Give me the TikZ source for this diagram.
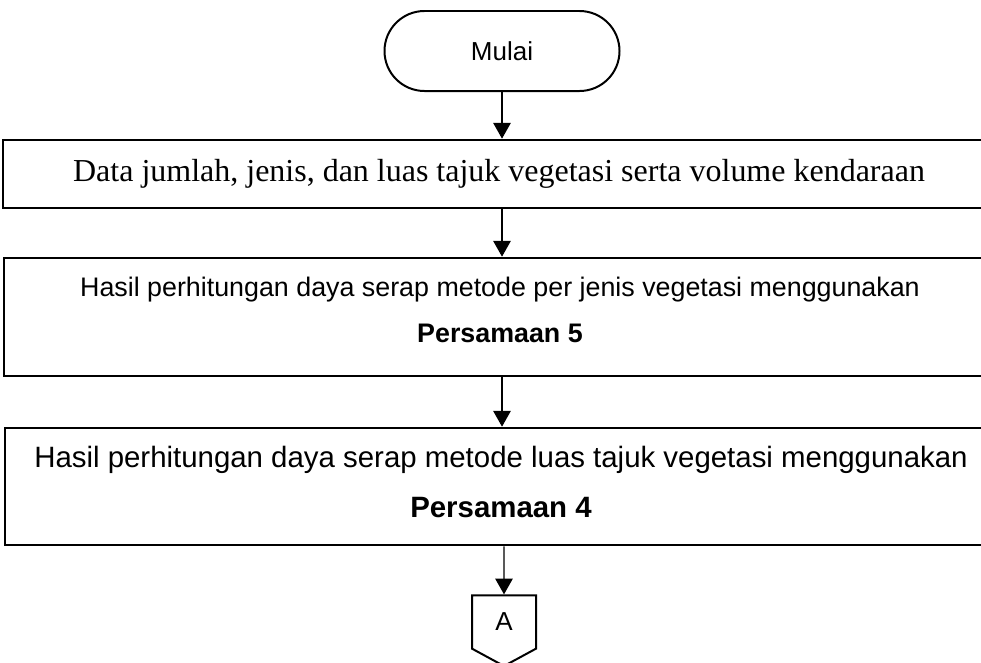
\documentclass[tikz,border=0pt]{standalone}
\usepackage{fontspec}
\setmainfont{Liberation Sans}
\newfontfamily\timesfont{Liberation Serif}
\usepackage{tikz}
\usetikzlibrary{arrows.meta, positioning, calc, shapes.symbols}

\begin{document}
\begin{tikzpicture}[x=0.03cm, y=-0.03cm, >={Triangle[length=13.5pt, width=15pt]},
    arus/.style={->, line width=0.9pt},
    kotak/.style={draw, line width=2.3pt, minimum width=29.76cm, align=center}]
    \useasboundingbox (0,0) rectangle (981,662);
    \node[draw, line width=1.7pt, rounded corners=1.2cm, minimum width=7.05cm,
      minimum height=2.4cm, font=\fontsize{22.2}{26}\selectfont]
      (mulai) at (502,51) {Mulai};
    \node[kotak, minimum height=2.04cm, font=\timesfont\fontsize{27.3}{32}\selectfont]
      (data) at (499,174)
      {Data jumlah, jenis, dan luas tajuk vegetasi serta volume kendaraan};
    \node[kotak, minimum height=3.54cm, text depth=12pt,
      font=\fontsize{22.9}{39.3}\selectfont] (perjenis) at (500,317)
      {Hasil perhitungan daya serap metode per jenis vegetasi menggunakan\\
       \textbf{Persamaan 5}};
    \node[kotak, minimum height=3.51cm, text depth=8pt,
      font=\fontsize{25.1}{43.1}\selectfont] (luastajuk) at (501,486.5)
      {Hasil perhitungan daya serap metode luas tajuk vegetasi menggunakan\\
       \textbf{Persamaan 4}};
    \node[draw, line width=1.7pt, signal, signal to=south, signal pointer angle=123,
      minimum width=1.92cm, minimum height=1.74cm, inner sep=0pt,
      font=\fontsize{22.2}{26}\selectfont] (konektor) at (504,622) {A};
    % alur
    \draw[arus] (mulai) -- (mulai |- data.north);
    \draw[arus] (data.south -| mulai) -- (perjenis.north -| mulai);
    \draw[arus] (perjenis.south -| mulai) -- (luastajuk.north -| mulai);
    \draw[arus] (luastajuk.south -| konektor) -- (konektor);
  \end{tikzpicture}
\end{document}
